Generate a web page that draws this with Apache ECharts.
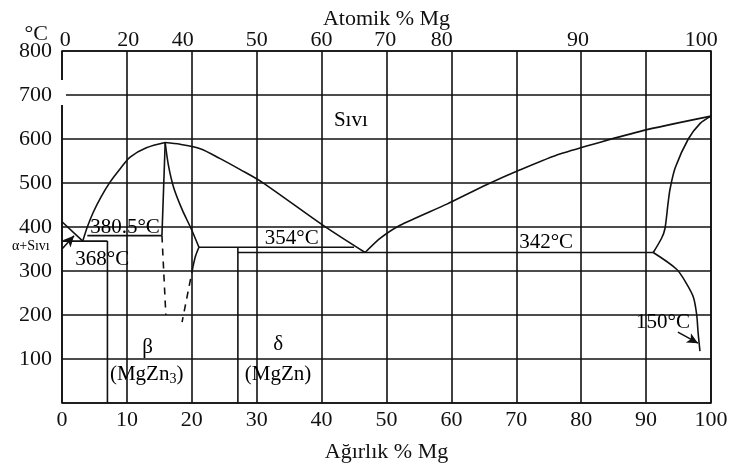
<!DOCTYPE html>
<html><head><meta charset="utf-8">
<script src="https://cdn.jsdelivr.net/npm/echarts@6/dist/echarts.min.js"></script>
<style>html,body{margin:0;padding:0;background:#fff}#c{width:730px;height:466px}</style>
</head><body><div id="c"></div>
<script>
const FONT = 'Liberation Serif';
const INK = '#111';

// top axis (atomic % Mg) labels and where they sit on the weight % scale
const atomicLabels = ['0','20','40','50','60','70','80','90','100'];
const atomicLabelPos = [0.5,10.2,18.6,30,40,49.8,58.5,79.5,98.5];

// phase boundaries: [wt% Mg, °C]
const liqZnSide   = [[0,412],[3.2,368]];
const domeLeft    = [[3.2,368],[3.9,400],[4.8,433],[6,468],[7.4,502],[9,533],[10.5,559],[13,580],[15.9,592]];
const domeRight   = [[15.9,592],[18.2,588],[21.3,578],[24.3,556],[27.4,531],[30.8,502],[40.3,403],[46.7,342]];
const liqMgSide   = [[46.7,342],[49,374],[52.1,404],[59.3,452],[65.4,496],[70.6,530],[76.7,566],[89.5,619],[100,652]];
const solidusMg   = [[100,652],[98.3,635],[96.5,600],[94.5,535],[93.7,487],[93.4,456],[92.9,396],[92.4,375],[91.1,342]];
const solvusMg    = [[91.1,342],[94.7,304],[96.2,272],[97.3,240],[97.8,200],[98.0,162],[98.3,118]];
const mgzn2Left   = [[15.4,380.5],[15.9,592]];
const mgzn2Right  = [[15.9,592],[16.4,540],[17.2,490],[18.5,440],[19.9,396],[21.1,354]];
const mgzn2Lower  = [[21.1,354],[20.6,335],[20.2,311]];
const dashLeft    = [[15.4,380.5],[16.0,200]];
const dashRight   = [[20.2,311],[18.5,184]];
const line380     = [[3.9,380.5],[15.4,380.5]];
const line368     = [[0,368],[7.0,368]];
const betaLine    = [[7.0,368],[7.0,0]];
const line354     = [[21.1,354],[45,354]];
const deltaLine   = [[27.1,354],[27.1,0]];
const line342     = [[27.1,342],[91.1,342]];

// annotations
const annoText = ['Sıvı','380.5°C','368°C','354°C','342°C','150°C','β','(MgZn{s|3})','δ','(MgZn)','α+Sıvı'];
const annoX    = [44.5, 9.7, 6.2, 35.4, 74.6, 92.6, 13.2, 13.05, 33.3, 33.3, -4.8];
const annoY    = [643, 398, 327, 373, 364, 182, 127, 65, 132, 65, 355];
const annoSize = [21,21,21,21,21,21,21,21,21,21,14];

const arrowAlpha = [[0,350],[1.85,380]];
const arrow150   = [[94.9,161],[98.0,136]];

function line(data, opts) {
  return Object.assign({
    type:'line', data:data, symbol:'none', silent:true, animation:false,
    lineStyle:{color:INK, width:1.6}, xAxisIndex:0, yAxisIndex:0
  }, opts||{});
}

const series = [
  line(liqZnSide), line(domeLeft,{smooth:0.3}), line(domeRight,{smooth:0.3}),
  line(liqMgSide,{smooth:0.2}), line(solidusMg,{smooth:0.3}), line(solvusMg,{smooth:0.3}),
  line(mgzn2Left), line(mgzn2Right,{smooth:0.3}), line(mgzn2Lower,{smooth:0.3}),
  line(dashLeft,{lineStyle:{color:INK,width:1.6,type:[7,6]}}),
  line(dashRight,{lineStyle:{color:INK,width:1.6,type:[7,6]}}),
  line(line380), line(line368), line(betaLine), line(line354), line(deltaLine), line(line342),
  {
    type:'scatter', silent:true, animation:false, clip:false, symbolSize:0,
    itemStyle:{opacity:1},
    data: annoText.map((t,i)=>({value:[annoX[i],annoY[i],i], label:{fontSize:annoSize[i]}})),
    label:{
      show:true, position:'inside', align:'center', verticalAlign:'middle', opacity:1,
      color:'#000', fontFamily:FONT, textBorderWidth:0,
      formatter:p=>annoText[p.value[2]],
      rich:{s:{fontSize:14, fontFamily:FONT, color:'#000', verticalAlign:'bottom', padding:[10,0,0,0]}}
    },
    markLine:{
      silent:true, animation:false, symbol:['none','arrow'], symbolSize:[8,11],
      lineStyle:{color:INK, width:1.6, type:'solid'}, label:{show:false},
      data:[
        [{coord:arrowAlpha[0]},{coord:arrowAlpha[1]}],
        [{coord:arrow150[0]},{coord:arrow150[1]}]
      ]
    }
  }
];

const chart = echarts.init(document.getElementById('c'), null, {renderer:'canvas'});
chart.setOption({
  backgroundColor:'#fff',
  animation:false,
  grid:{left:62, right:19, top:51, bottom:63, outerBoundsMode:'none', containLabel:false,
        show:true, borderColor:INK, borderWidth:1.6, backgroundColor:'transparent'},
  xAxis:[{
    type:'value', min:0, max:100, interval:10, position:'bottom',
    axisLine:{show:false}, axisTick:{show:false},
    axisLabel:{fontFamily:FONT, fontSize:22, color:INK, margin:6},
    splitLine:{show:true, lineStyle:{color:INK, width:1.6}},
    name:'Ağırlık % Mg', nameLocation:'middle', nameGap:38, nameMoveOverlap:false,
    nameTextStyle:{fontFamily:FONT, fontSize:22, color:INK}
  },{
    type:'value', min:0, max:100, position:'top',
    axisLine:{show:false}, axisTick:{show:false}, splitLine:{show:false},
    axisLabel:{fontFamily:FONT, fontSize:22, color:INK, margin:0,
      customValues:atomicLabelPos,
      formatter:(v)=>{const k=atomicLabelPos.indexOf(v); return k>=0?atomicLabels[k]:'';}},
    name:'Atomik % Mg', nameLocation:'middle', nameGap:21, nameMoveOverlap:false,
    nameTextStyle:{fontFamily:FONT, fontSize:22, color:INK}
  }],
  yAxis:{
    type:'value', min:0, max:800, interval:100,
    axisLine:{show:false}, axisTick:{show:false},
    axisLabel:{fontFamily:FONT, fontSize:22, color:INK, margin:10,
      formatter:v=>v===0?'':String(v)},
    splitLine:{show:true, lineStyle:{color:INK, width:1.6}},
    name:'°C', nameLocation:'end', nameGap:6, nameMoveOverlap:false,
    nameTextStyle:{fontFamily:FONT, fontSize:22, color:INK, align:'right', padding:[0,14,0,0]}
  },
  graphic:[{type:'rect', shape:{x:59, y:80, width:7, height:25}, style:{fill:'#fff'}, z:100, silent:true}],
  series:series
});
</script></body></html>
